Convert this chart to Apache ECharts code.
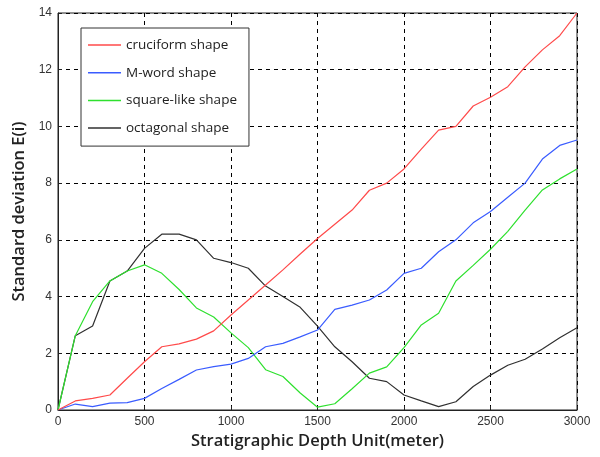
<!DOCTYPE html>
<html><head><meta charset="utf-8">
<script src="https://cdn.jsdelivr.net/npm/echarts@6/dist/echarts.min.js"></script>
<style>html,body{margin:0;padding:0;background:#fff}#c{width:600px;height:457px}</style>
</head><body><div id="c"></div>
<script>
const depth = [0,100,200,300,400,500,600,700,800,900,1000,1100,1200,1300,1400,1500,1600,1700,1800,1900,2000,2100,2200,2300,2400,2500,2600,2700,2800,2900,3000];
const cruciform = [0,0.32,0.41,0.53,1.12,1.7,2.23,2.33,2.5,2.79,3.35,3.88,4.41,4.94,5.5,6.05,6.55,7.05,7.75,8.0,8.5,9.2,9.87,10.0,10.72,11.03,11.4,12.1,12.7,13.2,14.0];
const mword = [0,0.21,0.12,0.24,0.26,0.41,0.76,1.08,1.41,1.53,1.62,1.82,2.23,2.35,2.58,2.82,3.55,3.7,3.88,4.23,4.82,5.0,5.58,6.0,6.6,7.0,7.5,8.0,8.85,9.33,9.52];
const squareLike = [0,2.62,3.82,4.55,4.9,5.12,4.82,4.25,3.6,3.28,2.72,2.2,1.42,1.18,0.6,0.1,0.22,0.75,1.3,1.52,2.2,3.0,3.41,4.55,5.1,5.67,6.3,7.05,7.76,8.15,8.5];
const octagonal = [0,2.62,2.96,4.55,4.9,5.7,6.2,6.2,6.0,5.35,5.2,5.0,4.37,4.0,3.62,2.96,2.23,1.7,1.12,1.0,0.53,0.32,0.12,0.29,0.83,1.23,1.58,1.79,2.15,2.55,2.9];
const names = ['cruciform shape','M-word shape','square-like shape','octagonal shape'];
const colors = ['#ff4a4a','#3a5cff','#2ee02e','#303030'];
const seriesVals = [cruciform, mword, squareLike, octagonal];

const chart = echarts.init(document.getElementById('c'));
const dashed = {show:true, lineStyle:{color:'#000', type:[4,4], width:1}};
chart.setOption({
  animation:false,
  grid:{left:58, right:23, top:13, bottom:47, show:true, borderColor:'#222', borderWidth:1, backgroundColor:'#fff'},
  legend:{
    data:names, orient:'vertical', left:81, top:28, icon:'rect',
    backgroundColor:'#fff', borderColor:'#333', borderWidth:1,
    padding:[10,12,11,7], itemWidth:33, itemHeight:1.5, itemGap:13.7,
    textStyle:{fontFamily:'Open Sans', fontSize:13.5, lineHeight:14, color:'#222'}
  },
  xAxis:{
    type:'value', min:0, max:3000, interval:500,
    name:'Stratigraphic Depth Unit(meter)', nameLocation:'middle', nameGap:20,
    nameTextStyle:{fontFamily:'Open Sans', fontSize:16.5, fontWeight:600, color:'#222'},
    axisLine:{show:true, lineStyle:{color:'#222'}},
    axisTick:{show:true, inside:true, length:4, lineStyle:{color:'#222'}},
    axisLabel:{fontFamily:'Liberation Sans', fontSize:12, color:'#333', margin:6, formatter:v=>String(v)},
    splitLine:dashed
  },
  yAxis:{
    type:'value', min:0, max:14, interval:2,
    name:'Standard deviation E(i)', nameLocation:'middle', nameGap:28,
    nameTextStyle:{fontFamily:'Open Sans', fontSize:16.5, fontWeight:600, color:'#222'},
    axisLine:{show:true, lineStyle:{color:'#222'}},
    axisTick:{show:true, inside:true, length:4, lineStyle:{color:'#222'}},
    axisLabel:{fontFamily:'Liberation Sans', fontSize:12, color:'#333', margin:6},
    splitLine:dashed
  },
  series: seriesVals.map((vals,i)=>({
    name:names[i], type:'line', symbol:'none', showSymbol:false,
    data: depth.map((d,j)=>[d, vals[j]]),
    lineStyle:{color:colors[i], width:1.2}, itemStyle:{color:colors[i]},
    z: 10-i
  }))
});
</script></body></html>
